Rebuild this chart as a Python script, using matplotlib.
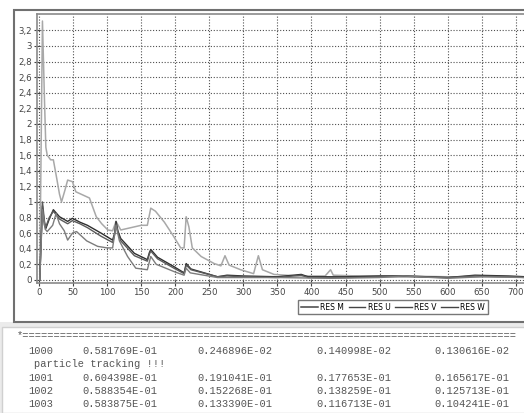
import matplotlib.pyplot as plt
import matplotlib.patches as patches

# residual histories
iter_m = [1, 5, 8, 10, 12, 17, 21, 26, 30, 33, 38, 42, 49, 54, 64, 74, 84, 92, 101, 108,
          113, 120, 130, 150, 159, 164, 171, 184, 196, 208, 213, 216, 220, 225, 238, 257,
          267, 273, 279, 296, 315, 322, 328, 345, 380, 420, 428, 432, 470, 530, 600, 650, 715]
res_m = [0.0, 3.32, 2.3, 1.7, 1.60, 1.54, 1.54, 1.3, 1.1, 1.0, 1.15, 1.28, 1.26, 1.13, 1.09,
         1.05, 0.81, 0.72, 0.64, 0.63, 0.75, 0.64, 0.66, 0.70, 0.70, 0.92, 0.88, 0.74, 0.58,
         0.41, 0.41, 0.81, 0.68, 0.41, 0.30, 0.21, 0.18, 0.31, 0.19, 0.13, 0.08, 0.31, 0.13,
         0.07, 0.05, 0.05, 0.13, 0.06, 0.05, 0.05, 0.04, 0.04, 0.04]

iter_u = [1, 5, 8, 10, 15, 21, 30, 42, 49, 60, 71, 91, 108, 111, 113, 116, 120, 140, 159,
          162, 164, 174, 198, 213, 216, 223, 262, 276, 300, 350, 385, 395, 450, 500, 540,
          600, 640, 690, 715]
res_u = [0.0, 0.95, 0.7, 0.66, 0.78, 0.9, 0.81, 0.75, 0.79, 0.74, 0.70, 0.60, 0.51, 0.6,
         0.75, 0.62, 0.53, 0.34, 0.26, 0.35, 0.39, 0.29, 0.17, 0.09, 0.21, 0.14, 0.04, 0.06,
         0.05, 0.04, 0.07, 0.04, 0.04, 0.05, 0.05, 0.03, 0.06, 0.05, 0.04]
res_v = [0.0, 1.0, 0.75, 0.68, 0.8, 0.88, 0.78, 0.72, 0.76, 0.72, 0.67, 0.56, 0.48, 0.58,
         0.72, 0.6, 0.5, 0.31, 0.24, 0.33, 0.37, 0.27, 0.15, 0.08, 0.19, 0.13, 0.04, 0.05,
         0.04, 0.03, 0.06, 0.03, 0.03, 0.04, 0.04, 0.03, 0.05, 0.04, 0.03]

iter_w = [1, 5, 9, 12, 20, 25, 30, 37, 42, 49, 55, 70, 86, 100, 108, 113, 118, 130, 142,
          159, 164, 172, 200, 213, 216, 222, 262, 300, 350, 430, 500, 535, 600, 650, 715]
res_w = [0.0, 0.9, 0.65, 0.62, 0.7, 0.85, 0.72, 0.63, 0.51, 0.6, 0.62, 0.5, 0.43, 0.41,
         0.41, 0.70, 0.5, 0.3, 0.15, 0.13, 0.30, 0.2, 0.1, 0.06, 0.15, 0.09, 0.03, 0.03,
         0.03, 0.02, 0.03, 0.05, 0.02, 0.04, 0.03]

y_ticks = [0, 0.2, 0.4, 0.6, 0.8, 1, 1.2, 1.4, 1.6, 1.8, 2, 2.2, 2.4, 2.6, 2.8, 3, 3.2]
y_labels = ['0', '0,2', '0,4', '0,6', '0,8', '1', '1,2', '1,4', '1,6', '1,8', '2',
            '2,2', '2,4', '2,6', '2,8', '3', '3,2']
x_ticks = list(range(0, 701, 50))

# solver log shown under the chart
log_rows = [
    ['1000', '0.581769E-01', '0.246896E-02', '0.140998E-02', '0.130616E-02'],
    ['1001', '0.604398E-01', '0.191041E-01', '0.177653E-01', '0.165617E-01'],
    ['1002', '0.588354E-01', '0.152268E-01', '0.138259E-01', '0.125713E-01'],
    ['1003', '0.583875E-01', '0.133390E-01', '0.116713E-01', '0.104241E-01'],
]
log_note = 'particle tracking !!!'

W, H = 524, 413
fig = plt.figure(figsize=(W / 100, H / 100), dpi=100)
fig.patch.set_facecolor('white')

# chart window frame and log panel
fig.patches.append(patches.Rectangle((0, 0), 1, (H - 322) / H, transform=fig.transFigure,
                                     facecolor='#ebebeb', edgecolor='none', zorder=-3))
fig.patches.append(patches.Rectangle((2 / W, 0), 1, (H - 327) / H, transform=fig.transFigure,
                                     facecolor='white', edgecolor='#d0d0d0', lw=1, zorder=-2))
fig.patches.append(patches.Rectangle((14 / W, (H - 322) / H), 1, 312 / H,
                                     transform=fig.transFigure, facecolor='white',
                                     edgecolor='#707070', lw=1.5, zorder=-2))

ax = fig.add_axes([37 / W, (H - 283) / H, (W - 37) / W, 269 / H])
ax.plot(iter_m, res_m, color='#a8a8a8', lw=1.1, label='RES M')
ax.plot(iter_u, res_u, color='#2e2e2e', lw=1.0, label='RES U')
ax.plot(iter_u, res_v, color='#5a5a5a', lw=1.0, label='RES V')
ax.plot(iter_w, res_w, color='#7c7c7c', lw=1.0, label='RES W')

ax.set_xlim(-3, 712)
ax.set_ylim(-0.04, 3.41)
ax.set_yticks(y_ticks)
ax.set_yticklabels(y_labels)
ax.set_xticks(x_ticks)
ax.grid(True, color='#505050', ls=(0, (1, 1.6)), lw=0.8)
ax.tick_params(labelsize=6.2, colors='#444444', length=4, direction='inout', pad=1.5)
for s in ax.spines.values():
    s.set_color('#8a8a8a')
    s.set_linewidth(1.2)
ax.spines['right'].set_visible(False)

leg = fig.legend(loc='center', bbox_to_anchor=(393 / W, 1 - 307 / H), ncol=4,
                 fontsize=5.5, frameon=True, fancybox=False, handlelength=2.2,
                 handletextpad=0.3, columnspacing=0.6, borderpad=0.35)
leg.get_frame().set_edgecolor('#555555')
leg.get_frame().set_linewidth(1.0)
for ln in leg.get_lines():
    ln.set_color('#444444')

mono = dict(family='Liberation Mono', fontsize=7.5, color='#555555', va='center', ha='left')
fig.text(17 / W, 1 - 335 / H, '*' + '=' * 79, **mono)
col_x = [28, 82, 197, 316, 434]
row_y = [351, 378, 391, 404]
for row, yy in zip(log_rows, row_y):
    for item, xx in zip(row, col_x):
        fig.text(xx / W, 1 - yy / H, item, **mono)
fig.text(34 / W, 1 - 364 / H, log_note, **mono)

fig.savefig('out.png', dpi=100)
